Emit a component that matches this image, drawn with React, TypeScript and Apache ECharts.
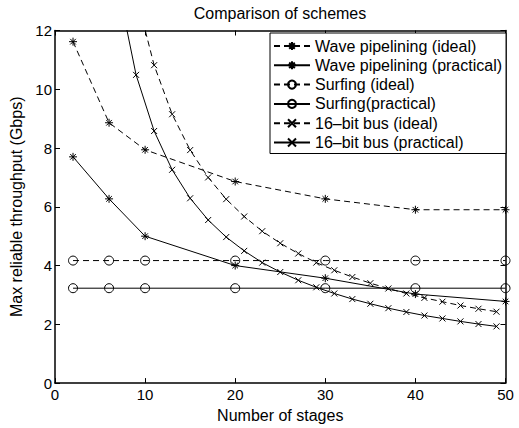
import React, { useEffect, useRef } from "react";
import * as echarts from "echarts";

const waveStages = [2, 6, 10, 20, 30, 40, 50];
const waveIdeal = [11.62, 8.86, 7.94, 6.86, 6.27, 5.9, 5.9];
const wavePractical = [7.7, 6.27, 5.0, 4.0, 3.57, 3.03, 2.78];

const surfStages = [2, 6, 10, 20, 30, 40, 50];
const surfIdeal = [4.17, 4.17, 4.17, 4.17, 4.17, 4.17, 4.17];
const surfPractical = [3.23, 3.23, 3.23, 3.23, 3.23, 3.23, 3.23];

const busStages = [7, 9, 11, 13, 15, 17, 19, 21, 23, 25, 27, 29, 31, 33, 35, 37, 39, 41, 43, 45, 47, 49];
const busIdeal = [17.0, 13.22, 10.82, 9.15, 7.93, 7.0, 6.26, 5.67, 5.17, 4.76, 4.41, 4.1, 3.84, 3.61, 3.4, 3.22, 3.05, 2.9, 2.77, 2.64, 2.53, 2.43];
const busPractical = [13.49, 10.49, 8.58, 7.26, 6.29, 5.55, 4.97, 4.5, 4.1, 3.78, 3.5, 3.26, 3.05, 2.86, 2.7, 2.55, 2.42, 2.3, 2.2, 2.1, 2.01, 1.93];

const xTicks = { min: 0, max: 50, interval: 10 };
const yTicks = { min: 0, max: 12, interval: 2 };

const seriesNames = [
  "Wave pipelining (ideal)",
  "Wave pipelining (practical)",
  "Surfing (ideal)",
  "Surfing(practical)",
  "16\u2013bit bus (ideal)",
  "16\u2013bit bus (practical)",
];

const FONT = "'Liberation Sans', Arial, Helvetica, sans-serif";
const STAR = "path://M5,0L5,10M0,5L10,5M1.5,1.5L8.5,8.5M8.5,1.5L1.5,8.5";
const CROSS = "path://M0,0L10,10M10,0L0,10";

function pairs(xs: number[], ys: number[]) {
  return xs.map((x, i) => [x, ys[i]]);
}

export default function App() {
  const ref = useRef<HTMLDivElement>(null);
  useEffect(() => {
    document.body.style.margin = "0";
    if (!ref.current) return;
    const chart = echarts.init(ref.current, null, { renderer: "svg" });

    const mk = (name: string, data: number[][], dashed: boolean, symbol: string, size: number) => ({
      name,
      type: "line",
      data,
      xAxisIndex: 0,
      yAxisIndex: 0,
      clip: true,
      symbol,
      symbolSize: size,
      showAllSymbol: true,
      lineStyle: { color: "#000", width: 1, type: dashed ? [6, 4] : "solid" },
      itemStyle: { color: "none", borderColor: "#000", borderWidth: 1 },
      emphasis: { disabled: true },
      silent: true,
    });

    const axisCommon = {
      type: "value",
      axisLine: { show: true, onZero: false, lineStyle: { color: "#000", width: 1.5 } },
      axisTick: { show: true, inside: true, length: 5, lineStyle: { color: "#000", width: 1 } },
      splitLine: { show: false },
    };

    chart.setOption({
      animation: false,
      grid: { left: 55, right: 13.5, top: 30.5, bottom: 42.5, containLabel: false },
      graphic: [
        {
          type: "text",
          x: 280,
          y: 13,
          style: {
            text: "Comparison of schemes",
            align: "center",
            verticalAlign: "middle",
            font: `16px ${FONT}`,
            fill: "#000",
          },
        },
      ],
      legend: {
        orient: "vertical",
        left: 270,
        top: 33,
        padding: [5, 4, 3, 3],
        itemWidth: 36,
        itemHeight: 10,
        itemGap: 3.3,
        backgroundColor: "#fff",
        borderColor: "#000",
        borderWidth: 1,
        selectedMode: false,
        data: seriesNames,
        textStyle: { color: "#000", fontSize: 16, fontFamily: FONT },
      },
      xAxis: [
        {
          ...axisCommon,
          position: "bottom",
          ...xTicks,
          name: "Number of stages",
          nameLocation: "middle",
          nameGap: 19,
          nameTextStyle: { color: "#000", fontSize: 16, fontFamily: FONT },
          axisLabel: { color: "#000", fontSize: 15, fontFamily: FONT, margin: 4 },
        },
        {
          ...axisCommon,
          position: "top",
          ...xTicks,
          axisLabel: { show: false },
        },
      ],
      yAxis: [
        {
          ...axisCommon,
          position: "left",
          ...yTicks,
          name: "Max reliable throughput (Gbps)",
          nameLocation: "middle",
          nameGap: 28,
          nameRotate: 90,
          nameTextStyle: { color: "#000", fontSize: 16, fontFamily: FONT },
          axisLabel: { color: "#000", fontSize: 15, fontFamily: FONT, margin: 3 },
        },
        {
          ...axisCommon,
          position: "right",
          ...yTicks,
          axisLabel: { show: false },
        },
      ],
      series: [
        mk(seriesNames[0], pairs(waveStages, waveIdeal), true, STAR, 8),
        mk(seriesNames[1], pairs(waveStages, wavePractical), false, STAR, 8),
        mk(seriesNames[2], pairs(surfStages, surfIdeal), true, "circle", 9),
        mk(seriesNames[3], pairs(surfStages, surfPractical), false, "circle", 9),
        mk(seriesNames[4], pairs(busStages, busIdeal), true, CROSS, 6),
        mk(seriesNames[5], pairs(busStages, busPractical), false, CROSS, 6),
      ],
    });
    return () => chart.dispose();
  }, []);
  return <div ref={ref} style={{ width: 519, height: 428 }} />;
}
